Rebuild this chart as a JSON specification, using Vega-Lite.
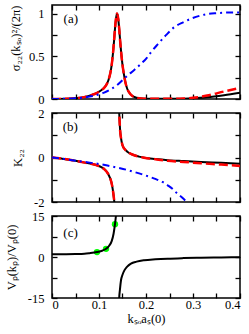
{
  "$schema": "https://vega.github.io/schema/vega-lite/v6.json",
  "padding": {"left": 4, "top": 3, "right": 0, "bottom": 0},
  "spacing": 14,
  "bounds": "flush",
  "config": {
    "view": {"stroke": "black", "strokeWidth": 1.5},
    "axis": {"grid": false, "domain": false, "tickColor": "black", "tickSize": -5, "tickWidth": 1.3, "minExtent": 0,
      "labelFont": "Liberation Serif", "labelFontSize": 12.5, "labelColor": "black",
      "titleFont": "Liberation Serif", "titleFontSize": 12.5, "titleFontWeight": "normal", "titleColor": "black"}
  },
  "datasets": {
    "a": [
      {"s":"k","x":0,"y":0},{"s":"k","x":0.03,"y":0.002},{"s":"k","x":0.05,"y":0.008},{"s":"k","x":0.07,"y":0.025},{"s":"k","x":0.083,"y":0.045},{"s":"k","x":0.095,"y":0.07},{"s":"k","x":0.104,"y":0.1},{"s":"k","x":0.11,"y":0.125},{"s":"k","x":0.115,"y":0.16},{"s":"k","x":0.12,"y":0.22},{"s":"k","x":0.124,"y":0.3},{"s":"k","x":0.127,"y":0.4},{"s":"k","x":0.13,"y":0.55},{"s":"k","x":0.132,"y":0.68},{"s":"k","x":0.134,"y":0.82},{"s":"k","x":0.136,"y":0.935},{"s":"k","x":0.1385,"y":1.0},{"s":"k","x":0.141,"y":0.935},{"s":"k","x":0.143,"y":0.82},{"s":"k","x":0.145,"y":0.68},{"s":"k","x":0.147,"y":0.555},{"s":"k","x":0.15,"y":0.4},{"s":"k","x":0.153,"y":0.29},{"s":"k","x":0.156,"y":0.2},{"s":"k","x":0.16,"y":0.12},{"s":"k","x":0.165,"y":0.07},{"s":"k","x":0.17,"y":0.04},{"s":"k","x":0.18,"y":0.015},{"s":"k","x":0.19,"y":0.006},{"s":"k","x":0.21,"y":0.002},{"s":"k","x":0.25,"y":0.002},{"s":"k","x":0.28,"y":0.004},{"s":"k","x":0.3,"y":0.008},{"s":"k","x":0.33,"y":0.02},{"s":"k","x":0.366,"y":0.045},{"s":"k","x":0.4,"y":0.074},
      {"s":"r","x":0,"y":0},{"s":"r","x":0.03,"y":0.002},{"s":"r","x":0.05,"y":0.008},{"s":"r","x":0.07,"y":0.025},{"s":"r","x":0.083,"y":0.045},{"s":"r","x":0.095,"y":0.07},{"s":"r","x":0.104,"y":0.1},{"s":"r","x":0.11,"y":0.125},{"s":"r","x":0.115,"y":0.16},{"s":"r","x":0.12,"y":0.22},{"s":"r","x":0.124,"y":0.3},{"s":"r","x":0.127,"y":0.4},{"s":"r","x":0.13,"y":0.55},{"s":"r","x":0.132,"y":0.68},{"s":"r","x":0.134,"y":0.82},{"s":"r","x":0.136,"y":0.935},{"s":"r","x":0.1385,"y":1.0},{"s":"r","x":0.141,"y":0.935},{"s":"r","x":0.143,"y":0.82},{"s":"r","x":0.145,"y":0.68},{"s":"r","x":0.147,"y":0.555},{"s":"r","x":0.15,"y":0.4},{"s":"r","x":0.153,"y":0.29},{"s":"r","x":0.156,"y":0.2},{"s":"r","x":0.16,"y":0.12},{"s":"r","x":0.165,"y":0.07},{"s":"r","x":0.17,"y":0.04},{"s":"r","x":0.18,"y":0.015},{"s":"r","x":0.19,"y":0.006},{"s":"r","x":0.21,"y":0.002},{"s":"r","x":0.25,"y":0.002},{"s":"r","x":0.28,"y":0.006},{"s":"r","x":0.3,"y":0.014},{"s":"r","x":0.33,"y":0.04},{"s":"r","x":0.366,"y":0.088},{"s":"r","x":0.4,"y":0.13},
      {"s":"b","x":0,"y":0},{"s":"b","x":0.03,"y":0.003},{"s":"b","x":0.05,"y":0.008},{"s":"b","x":0.07,"y":0.02},{"s":"b","x":0.09,"y":0.04},{"s":"b","x":0.111,"y":0.075},{"s":"b","x":0.1255,"y":0.115},{"s":"b","x":0.14,"y":0.17},{"s":"b","x":0.157,"y":0.257},{"s":"b","x":0.175,"y":0.34},{"s":"b","x":0.189,"y":0.41},{"s":"b","x":0.2,"y":0.47},{"s":"b","x":0.211,"y":0.55},{"s":"b","x":0.225,"y":0.64},{"s":"b","x":0.243,"y":0.75},{"s":"b","x":0.26,"y":0.84},{"s":"b","x":0.28,"y":0.9},{"s":"b","x":0.296,"y":0.94},{"s":"b","x":0.315,"y":0.975},{"s":"b","x":0.331,"y":0.995},{"s":"b","x":0.35,"y":1.005},{"s":"b","x":0.366,"y":1.01},{"s":"b","x":0.38,"y":1.012},{"s":"b","x":0.4,"y":1.013}
    ],
    "b": [
      {"s":"k","g":"L","x":0,"y":0},{"s":"k","g":"L","x":0.02,"y":-0.05},{"s":"k","g":"L","x":0.04,"y":-0.11},{"s":"k","g":"L","x":0.055,"y":-0.17},{"s":"k","g":"L","x":0.07,"y":-0.23},{"s":"k","g":"L","x":0.085,"y":-0.29},{"s":"k","g":"L","x":0.097,"y":-0.36},{"s":"k","g":"L","x":0.105,"y":-0.43},{"s":"k","g":"L","x":0.111,"y":-0.52},{"s":"k","g":"L","x":0.116,"y":-0.63},{"s":"k","g":"L","x":0.12,"y":-0.76},{"s":"k","g":"L","x":0.124,"y":-0.95},{"s":"k","g":"L","x":0.127,"y":-1.17},{"s":"k","g":"L","x":0.129,"y":-1.4},{"s":"k","g":"L","x":0.131,"y":-1.7},{"s":"k","g":"L","x":0.1326,"y":-2.0},{"s":"k","g":"L","x":0.134,"y":-2.4},{"s":"k","g":"L","x":0.135,"y":-2.8},
      {"s":"k","g":"R","x":0.1405,"y":3.0},{"s":"k","g":"R","x":0.142,"y":2.4},{"s":"k","g":"R","x":0.143,"y":2.0},{"s":"k","g":"R","x":0.145,"y":1.2},{"s":"k","g":"R","x":0.147,"y":0.85},{"s":"k","g":"R","x":0.15,"y":0.55},{"s":"k","g":"R","x":0.155,"y":0.37},{"s":"k","g":"R","x":0.161,"y":0.25},{"s":"k","g":"R","x":0.168,"y":0.16},{"s":"k","g":"R","x":0.175,"y":0.1},{"s":"k","g":"R","x":0.185,"y":0.04},{"s":"k","g":"R","x":0.196,"y":-0.01},{"s":"k","g":"R","x":0.22,"y":-0.07},{"s":"k","g":"R","x":0.246,"y":-0.12},{"s":"k","g":"R","x":0.28,"y":-0.16},{"s":"k","g":"R","x":0.317,"y":-0.2},{"s":"k","g":"R","x":0.36,"y":-0.24},{"s":"k","g":"R","x":0.4,"y":-0.28},
      {"s":"r","g":"L","x":0,"y":0},{"s":"r","g":"L","x":0.02,"y":-0.05},{"s":"r","g":"L","x":0.04,"y":-0.11},{"s":"r","g":"L","x":0.055,"y":-0.17},{"s":"r","g":"L","x":0.07,"y":-0.23},{"s":"r","g":"L","x":0.085,"y":-0.29},{"s":"r","g":"L","x":0.097,"y":-0.36},{"s":"r","g":"L","x":0.105,"y":-0.43},{"s":"r","g":"L","x":0.111,"y":-0.52},{"s":"r","g":"L","x":0.116,"y":-0.63},{"s":"r","g":"L","x":0.12,"y":-0.76},{"s":"r","g":"L","x":0.124,"y":-0.95},{"s":"r","g":"L","x":0.127,"y":-1.17},{"s":"r","g":"L","x":0.129,"y":-1.4},{"s":"r","g":"L","x":0.131,"y":-1.7},{"s":"r","g":"L","x":0.1326,"y":-2.0},{"s":"r","g":"L","x":0.134,"y":-2.4},{"s":"r","g":"L","x":0.135,"y":-2.8},
      {"s":"r","g":"R","x":0.1405,"y":3.0},{"s":"r","g":"R","x":0.142,"y":2.4},{"s":"r","g":"R","x":0.143,"y":2.0},{"s":"r","g":"R","x":0.145,"y":1.2},{"s":"r","g":"R","x":0.147,"y":0.85},{"s":"r","g":"R","x":0.15,"y":0.55},{"s":"r","g":"R","x":0.155,"y":0.37},{"s":"r","g":"R","x":0.161,"y":0.25},{"s":"r","g":"R","x":0.168,"y":0.16},{"s":"r","g":"R","x":0.175,"y":0.1},{"s":"r","g":"R","x":0.185,"y":0.04},{"s":"r","g":"R","x":0.196,"y":-0.01},{"s":"r","g":"R","x":0.22,"y":-0.08},{"s":"r","g":"R","x":0.246,"y":-0.15},{"s":"r","g":"R","x":0.28,"y":-0.2},{"s":"r","g":"R","x":0.317,"y":-0.26},{"s":"r","g":"R","x":0.36,"y":-0.32},{"s":"r","g":"R","x":0.4,"y":-0.38},
      {"s":"b","g":"L","x":0,"y":0},{"s":"b","g":"L","x":0.03,"y":-0.08},{"s":"b","g":"L","x":0.055,"y":-0.16},{"s":"b","g":"L","x":0.08,"y":-0.23},{"s":"b","g":"L","x":0.097,"y":-0.28},{"s":"b","g":"L","x":0.118,"y":-0.36},{"s":"b","g":"L","x":0.14,"y":-0.46},{"s":"b","g":"L","x":0.16,"y":-0.56},{"s":"b","g":"L","x":0.175,"y":-0.65},{"s":"b","g":"L","x":0.195,"y":-0.78},{"s":"b","g":"L","x":0.218,"y":-0.95},{"s":"b","g":"L","x":0.235,"y":-1.1},{"s":"b","g":"L","x":0.246,"y":-1.25},{"s":"b","g":"L","x":0.257,"y":-1.42},{"s":"b","g":"L","x":0.267,"y":-1.63},{"s":"b","g":"L","x":0.278,"y":-1.82},{"s":"b","g":"L","x":0.285,"y":-1.97},{"s":"b","g":"L","x":0.295,"y":-2.2}
    ],
    "c": [
      {"s":"k","g":"L","x":0,"y":1.0},{"s":"k","g":"L","x":0.03,"y":1.05},{"s":"k","g":"L","x":0.05,"y":1.1},{"s":"k","g":"L","x":0.069,"y":1.2},{"s":"k","g":"L","x":0.08,"y":1.4},{"s":"k","g":"L","x":0.0957,"y":1.8},{"s":"k","g":"L","x":0.105,"y":2.2},{"s":"k","g":"L","x":0.115,"y":3.0},{"s":"k","g":"L","x":0.122,"y":4.2},{"s":"k","g":"L","x":0.127,"y":5.8},{"s":"k","g":"L","x":0.131,"y":8.5},{"s":"k","g":"L","x":0.134,"y":12},{"s":"k","g":"L","x":0.136,"y":15},{"s":"k","g":"L","x":0.137,"y":17},
      {"s":"k","g":"R","x":0.1425,"y":-17},{"s":"k","g":"R","x":0.143,"y":-15},{"s":"k","g":"R","x":0.1445,"y":-12},{"s":"k","g":"R","x":0.1468,"y":-8.5},{"s":"k","g":"R","x":0.15,"y":-6.5},{"s":"k","g":"R","x":0.154,"y":-4.9},{"s":"k","g":"R","x":0.16,"y":-3.5},{"s":"k","g":"R","x":0.168,"y":-2.4},{"s":"k","g":"R","x":0.18,"y":-1.7},{"s":"k","g":"R","x":0.196,"y":-1.2},{"s":"k","g":"R","x":0.22,"y":-0.85},{"s":"k","g":"R","x":0.246,"y":-0.6},{"s":"k","g":"R","x":0.28,"y":-0.4},{"s":"k","g":"R","x":0.317,"y":-0.25},{"s":"k","g":"R","x":0.36,"y":-0.15},{"s":"k","g":"R","x":0.4,"y":-0.1},
      {"s":"p","g":"P","x":0.0957,"y":1.8},{"s":"p","g":"P","x":0.115,"y":3.0},{"s":"p","g":"P","x":0.134,"y":12}
    ]
  },
  "vconcat": [
    {
      "width": 188, "height": 94,
      "resolve": {"scale": {"x": "independent", "y": "independent"}},
      "layer": [
        {
          "data": {"name": "a"},
          "encoding": {
            "x": {"field": "x", "type": "quantitative", "scale": {"domain": [0, 0.4]},
              "axis": {"orient": "bottom", "values": [0,0.05,0.1,0.15,0.2,0.25,0.3,0.35,0.4], "labels": false, "title": null, "maxExtent": 0}},
            "y": {"field": "y", "type": "quantitative", "scale": {"domain": [0, 1.1]},
              "axis": {"orient": "left", "values": [0,0.25,0.5,0.75,1], "labelExpr": "round(datum.value*4)%2==0 ? format(datum.value,'~g') : ''", "labelPadding": 13, "title": "σ₂₂(kₛₒ)²/(2π)", "titleAnchor": "end", "titlePadding": 6}}
          },
          "layer": [
            {"transform": [{"filter": "datum.s=='k'"}], "mark": {"type": "line", "color": "black", "strokeWidth": 2, "clip": true, "interpolate": "monotone"}},
            {"transform": [{"filter": "datum.s=='r'"}], "mark": {"type": "line", "color": "#ff0000", "strokeWidth": 2.5, "strokeDash": [9, 4], "clip": true, "interpolate": "monotone"}},
            {"transform": [{"filter": "datum.s=='b'"}], "mark": {"type": "line", "color": "#0000ff", "strokeWidth": 2, "strokeDash": [7, 4, 2, 4], "clip": true, "interpolate": "monotone"}}
          ]
        },
        {
          "data": {"values": [{"x": 0.04, "y": 0.936, "t": "(a)"}]},
          "mark": {"type": "text", "font": "Liberation Serif", "fontSize": 13, "color": "black", "align": "center", "baseline": "middle"},
          "encoding": {
            "x": {"field": "x", "type": "quantitative", "scale": {"domain": [0, 0.4]},
              "axis": {"orient": "top", "values": [0,0.05,0.1,0.15,0.2,0.25,0.3,0.35,0.4], "labels": false, "title": null, "maxExtent": 0}},
            "y": {"field": "y", "type": "quantitative", "scale": {"domain": [0, 1.1]},
              "axis": {"orient": "right", "values": [0,0.25,0.5,0.75,1], "labels": false, "title": null, "maxExtent": 0}},
            "text": {"field": "t"}
          }
        }
      ]
    },
    {
      "width": 188, "height": 89,
      "resolve": {"scale": {"x": "independent", "y": "independent"}},
      "layer": [
        {
          "data": {"name": "b"},
          "encoding": {
            "x": {"field": "x", "type": "quantitative", "scale": {"domain": [0, 0.4]},
              "axis": {"orient": "bottom", "values": [0,0.05,0.1,0.15,0.2,0.25,0.3,0.35,0.4], "labels": false, "title": null, "maxExtent": 0}},
            "y": {"field": "y", "type": "quantitative", "scale": {"domain": [-2, 2]},
              "axis": {"orient": "left", "values": [-2,-1,0,1,2], "labelExpr": "datum.value%2==0 ? datum.value+'' : ''", "labelPadding": 13, "title": "K₂₂", "titlePadding": 9}},
            "detail": {"field": "g"}
          },
          "layer": [
            {"transform": [{"filter": "datum.s=='k'"}], "mark": {"type": "line", "color": "black", "strokeWidth": 2, "clip": true, "interpolate": "monotone"}},
            {"transform": [{"filter": "datum.s=='r'"}], "mark": {"type": "line", "color": "#ff0000", "strokeWidth": 2.5, "strokeDash": [9, 4], "clip": true, "interpolate": "monotone"}},
            {"transform": [{"filter": "datum.s=='b'"}], "mark": {"type": "line", "color": "#0000ff", "strokeWidth": 2, "strokeDash": [7, 4, 2, 4], "clip": true, "interpolate": "monotone"}}
          ]
        },
        {
          "data": {"values": [{"x": 0.039, "y": 1.37, "t": "(b)"}]},
          "mark": {"type": "text", "font": "Liberation Serif", "fontSize": 13, "color": "black", "align": "center", "baseline": "middle"},
          "encoding": {
            "x": {"field": "x", "type": "quantitative", "scale": {"domain": [0, 0.4]},
              "axis": {"orient": "top", "values": [0,0.05,0.1,0.15,0.2,0.25,0.3,0.35,0.4], "labels": false, "title": null, "maxExtent": 0}},
            "y": {"field": "y", "type": "quantitative", "scale": {"domain": [-2, 2]},
              "axis": {"orient": "right", "values": [-2,-1,0,1,2], "labels": false, "title": null, "maxExtent": 0}},
            "text": {"field": "t"}
          }
        }
      ]
    },
    {
      "width": 188, "height": 82,
      "resolve": {"scale": {"x": "independent", "y": "independent"}},
      "layer": [
        {
          "data": {"name": "c"},
          "encoding": {
            "x": {"field": "x", "type": "quantitative", "scale": {"domain": [0, 0.4]},
              "axis": {"orient": "bottom", "values": [0,0.05,0.1,0.15,0.2,0.25,0.3,0.35,0.4], "labelExpr": "round(datum.value*20)%2==0 ? (datum.value==0 ? '0' : format(datum.value,'.1f')) : ''", "labelPadding": 5, "title": "kₛₒaₛ(0)", "titlePadding": 2}},
            "y": {"field": "y", "type": "quantitative", "scale": {"domain": [-15, 15]},
              "axis": {"orient": "left", "values": [-15,-7.5,0,7.5,15], "labelExpr": "datum.value%15==0 ? datum.value+'' : ''", "labelPadding": 13, "title": "Vₚ(kₚ)/Vₚ(0)", "titlePadding": 9}}
          },
          "layer": [
            {"transform": [{"filter": "datum.s=='p'"}], "mark": {"type": "point", "filled": true, "color": "#00ff00", "size": 40, "opacity": 1}},
            {"transform": [{"filter": "datum.s=='k'"}], "mark": {"type": "line", "color": "black", "strokeWidth": 2, "clip": true, "interpolate": "monotone"}, "encoding": {"detail": {"field": "g"}}}
          ]
        },
        {
          "data": {"values": [{"x": 0.0395, "y": 8.8, "t": "(c)"}]},
          "mark": {"type": "text", "font": "Liberation Serif", "fontSize": 13, "color": "black", "align": "center", "baseline": "middle"},
          "encoding": {
            "x": {"field": "x", "type": "quantitative", "scale": {"domain": [0, 0.4]},
              "axis": {"orient": "top", "values": [0,0.05,0.1,0.15,0.2,0.25,0.3,0.35,0.4], "labels": false, "title": null, "maxExtent": 0}},
            "y": {"field": "y", "type": "quantitative", "scale": {"domain": [-15, 15]},
              "axis": {"orient": "right", "values": [-15,-7.5,0,7.5,15], "labels": false, "title": null, "maxExtent": 0}},
            "text": {"field": "t"}
          }
        }
      ]
    }
  ]
}
